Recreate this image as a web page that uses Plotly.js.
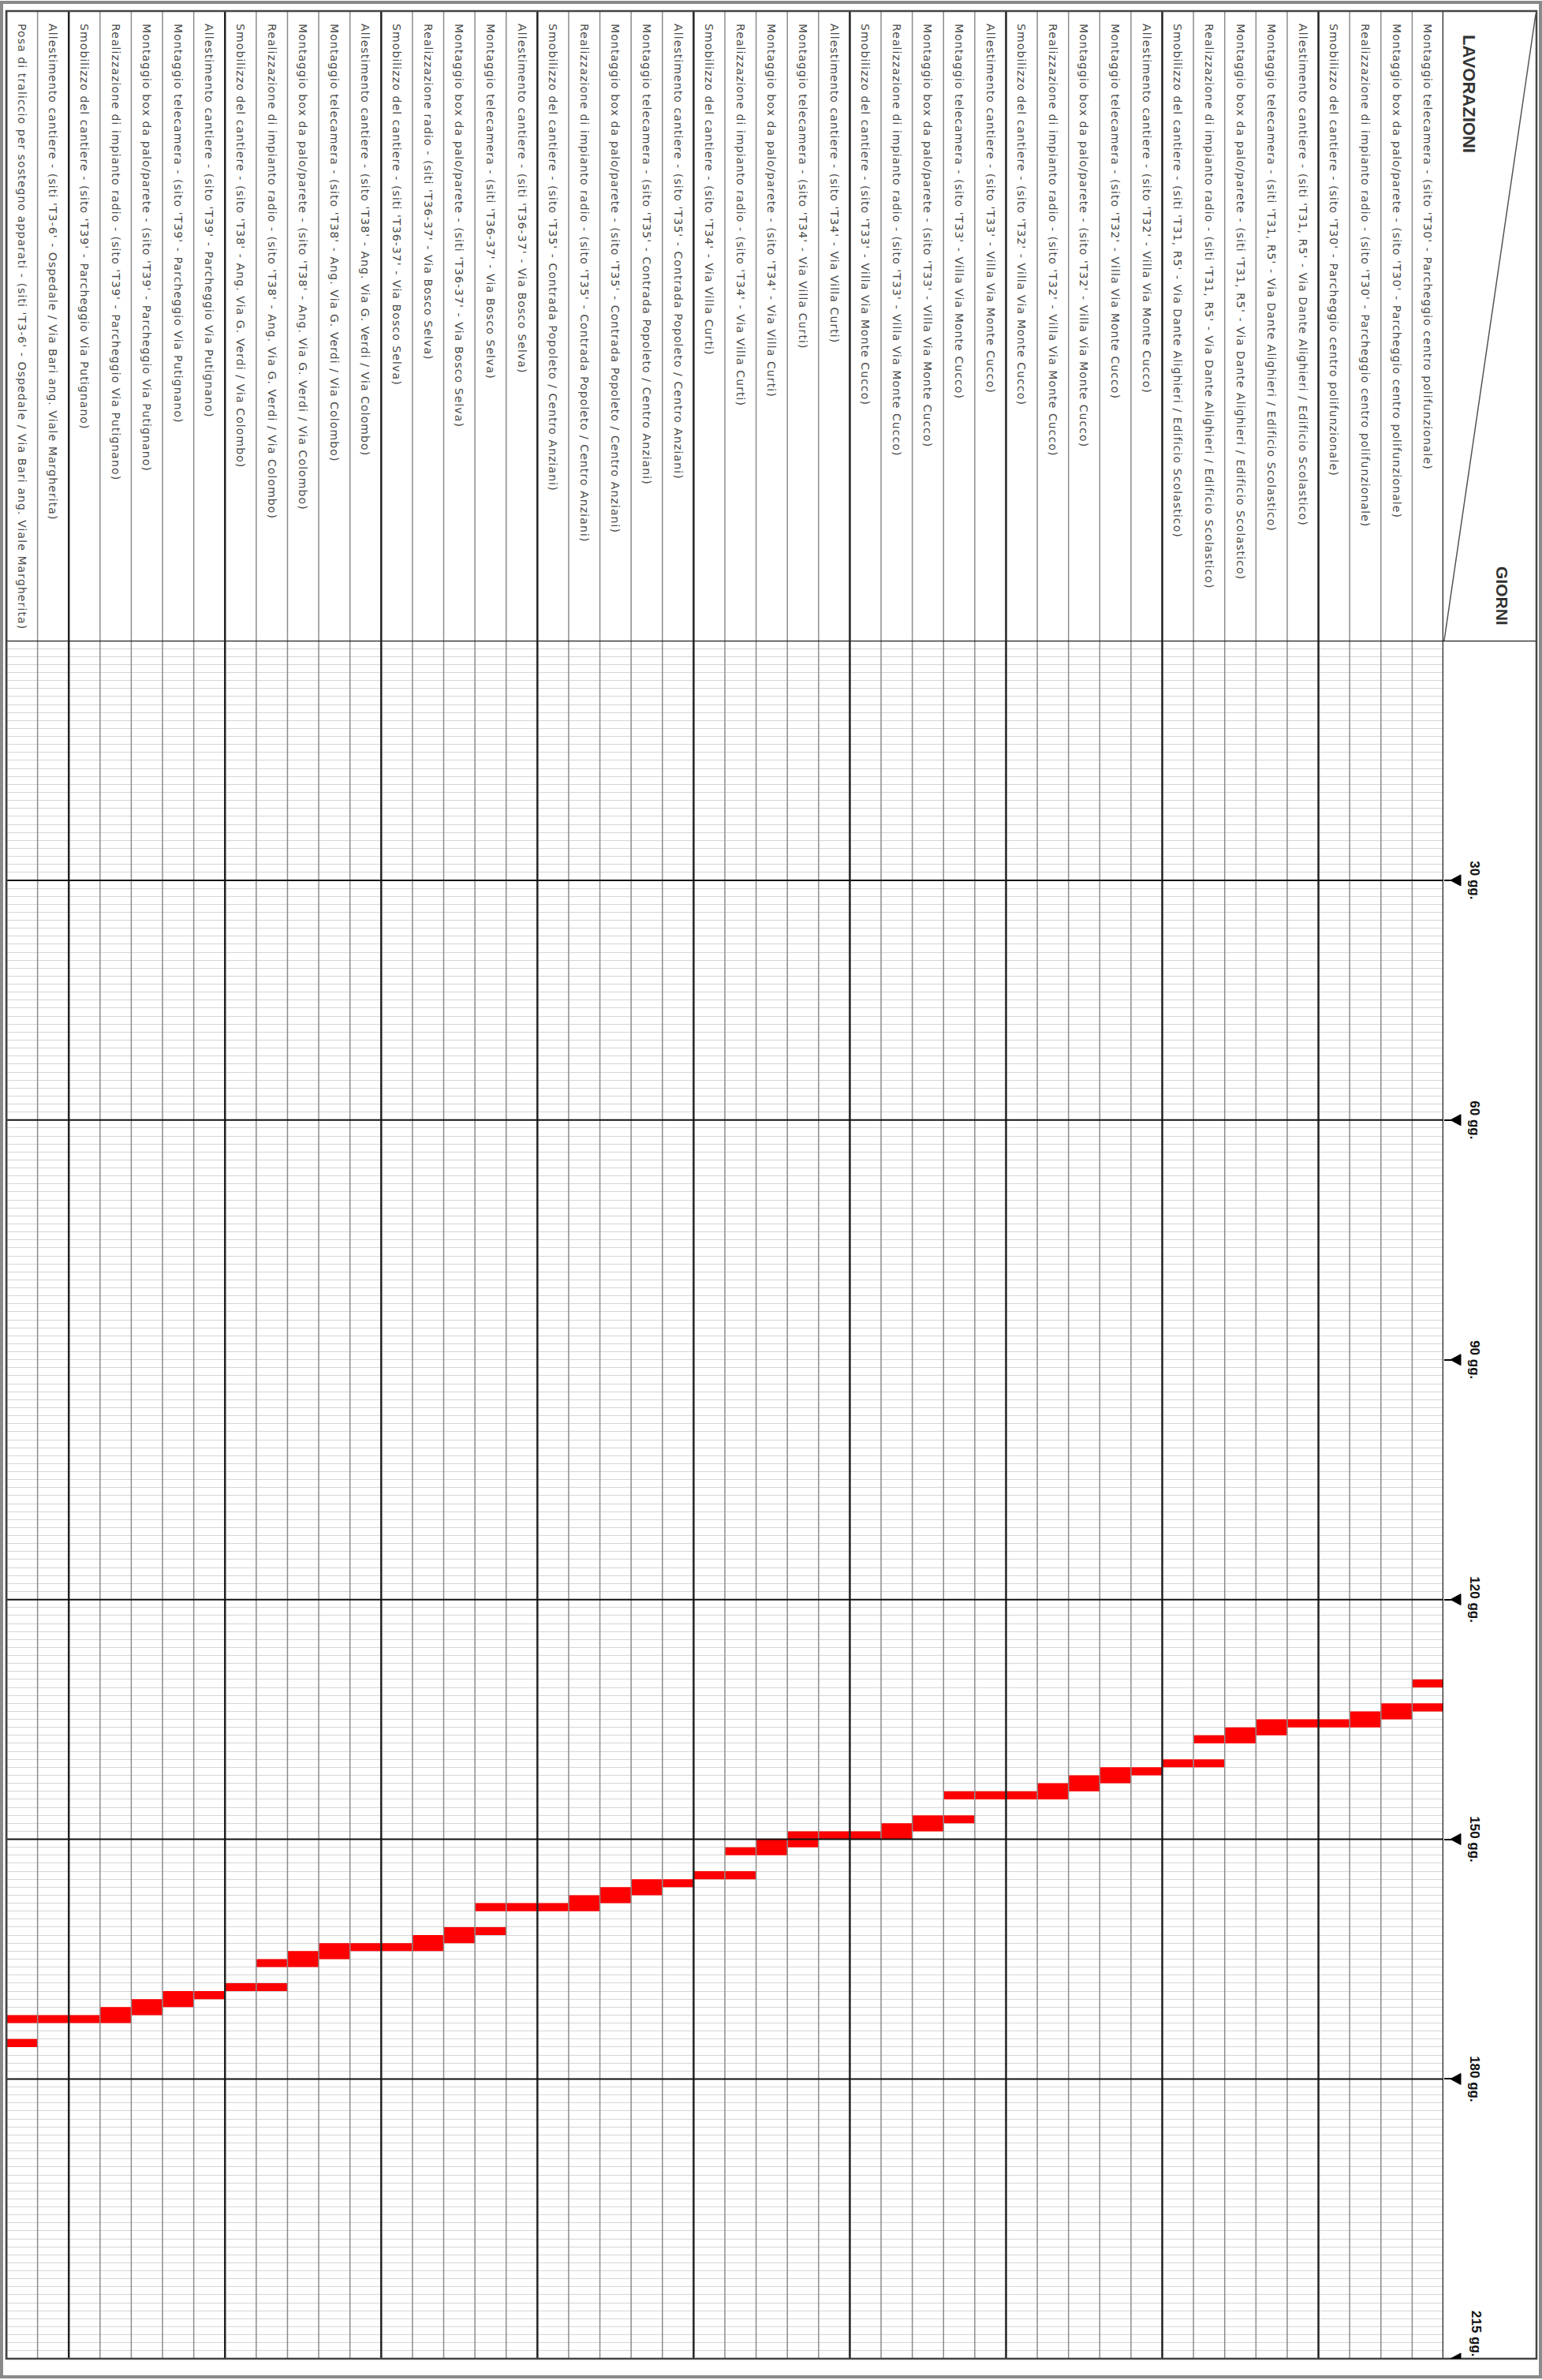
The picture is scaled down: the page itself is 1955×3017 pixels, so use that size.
<!DOCTYPE html>
<html>
<head>
<meta charset="utf-8">
<script src="https://cdn.plot.ly/plotly-3.0.1.min.js"></script>
<style>
html,body{margin:0;padding:0;background:#fff;width:1955px;height:3017px;overflow:hidden;}
#wrap{position:absolute;left:0;top:0;width:1955px;height:3017px;overflow:hidden;}
#chart{position:absolute;left:0;top:0;width:3017px;height:1955px;transform-origin:0 0;transform:translate(1955px,0) rotate(90deg);}
</style>
</head>
<body>
<div id="wrap"><div id="chart"></div></div>
<script>
// ---------------- DATA ----------------
const taskLabels = [
"Montaggio telecamera - (sito 'T30' - Parcheggio centro polifunzionale)",
"Montaggio box da palo/parete - (sito 'T30' - Parcheggio centro polifunzionale)",
"Realizzazione di impianto radio - (sito 'T30' - Parcheggio centro polifunzionale)",
"Smobilizzo del cantiere - (sito 'T30' - Parcheggio centro polifunzionale)",
"Allestimento cantiere - (siti 'T31, R5' - Via Dante Alighieri / Edificio Scolastico)",
"Montaggio telecamera - (siti 'T31, R5' - Via Dante Alighieri / Edificio Scolastico)",
"Montaggio box da palo/parete - (siti 'T31, R5' - Via Dante Alighieri / Edificio Scolastico)",
"Realizzazione di impianto radio - (siti 'T31, R5' - Via Dante Alighieri / Edificio Scolastico)",
"Smobilizzo del cantiere - (siti 'T31, R5' - Via Dante Alighieri / Edificio Scolastico)",
"Allestimento cantiere - (sito 'T32' - Villa Via Monte Cucco)",
"Montaggio telecamera - (sito 'T32' - Villa Via Monte Cucco)",
"Montaggio box da palo/parete - (sito 'T32' - Villa Via Monte Cucco)",
"Realizzazione di impianto radio - (sito 'T32' - Villa Via Monte Cucco)",
"Smobilizzo del cantiere - (sito 'T32' - Villa Via Monte Cucco)",
"Allestimento cantiere - (sito 'T33' - Villa Via Monte Cucco)",
"Montaggio telecamera - (sito 'T33' - Villa Via Monte Cucco)",
"Montaggio box da palo/parete - (sito 'T33' - Villa Via Monte Cucco)",
"Realizzazione di impianto radio - (sito 'T33' - Villa Via Monte Cucco)",
"Smobilizzo del cantiere - (sito 'T33' - Villa Via Monte Cucco)",
"Allestimento cantiere - (sito 'T34' - Via Villa Curti)",
"Montaggio telecamera - (sito 'T34' - Via Villa Curti)",
"Montaggio box da palo/parete - (sito 'T34' - Via Villa Curti)",
"Realizzazione di impianto radio - (sito 'T34' - Via Villa Curti)",
"Smobilizzo del cantiere - (sito 'T34' - Via Villa Curti)",
"Allestimento cantiere - (sito 'T35' - Contrada Popoleto / Centro Anziani)",
"Montaggio telecamera - (sito 'T35' - Contrada Popoleto / Centro Anziani)",
"Montaggio box da palo/parete - (sito 'T35' - Contrada Popoleto / Centro Anziani)",
"Realizzazione di impianto radio - (sito 'T35' - Contrada Popoleto / Centro Anziani)",
"Smobilizzo del cantiere - (sito 'T35' - Contrada Popoleto / Centro Anziani)",
"Allestimento cantiere - (siti 'T36-37' - Via Bosco Selva)",
"Montaggio telecamera - (siti 'T36-37' - Via Bosco Selva)",
"Montaggio box da palo/parete - (siti 'T36-37' - Via Bosco Selva)",
"Realizzazione radio - (siti 'T36-37' - Via Bosco Selva)",
"Smobilizzo del cantiere - (siti 'T36-37' - Via Bosco Selva)",
"Allestimento cantiere - (sito 'T38' - Ang. Via G. Verdi / Via Colombo)",
"Montaggio telecamera - (sito 'T38' - Ang. Via G. Verdi / Via Colombo)",
"Montaggio box da palo/parete - (sito 'T38' - Ang. Via G. Verdi / Via Colombo)",
"Realizzazione di impianto radio - (sito 'T38' - Ang. Via G. Verdi / Via Colombo)",
"Smobilizzo del cantiere - (sito 'T38' - Ang. Via G. Verdi / Via Colombo)",
"Allestimento cantiere - (sito 'T39' - Parcheggio Via Putignano)",
"Montaggio telecamera - (sito 'T39' - Parcheggio Via Putignano)",
"Montaggio box da palo/parete - (sito 'T39' - Parcheggio Via Putignano)",
"Realizzazione di impianto radio - (sito 'T39' - Parcheggio Via Putignano)",
"Smobilizzo del cantiere - (sito 'T39' - Parcheggio Via Putignano)",
"Allestimento cantiere - (siti 'T3-6' - Ospedale / Via Bari ang. Viale Margherita)",
"Posa di traliccio per sostegno apparati - (siti 'T3-6' - Ospedale / Via Bari ang. Viale Margherita)"
];

// bar segments: row number (1 = first task), start day, end day
const barRow   = [1,1,2,3,4, 5,6,7,8,8,9, 10,11,12,13,14, 15,16,16,17,18,19, 20,21,22,23,23,24, 25,26,27,28,29, 30,31,31,32,33,34, 35,36,37,38,38,39, 40,41,42,43,44, 45,46,46];
const barStart = [130,133,133,134,135, 135,135,136,137,140,140, 141,141,142,143,144, 144,144,147,147,148,149, 149,149,150,151,154,154, 155,155,156,157,158, 158,158,161,161,162,163, 163,163,164,165,168,168, 169,169,170,171,172, 172,172,175];
const barEnd   = [131,134,135,136,136, 136,137,138,138,141,141, 142,143,144,145,145, 145,145,148,149,150,150, 150,151,152,152,155,155, 156,157,158,159,159, 159,159,162,163,164,164, 164,165,166,166,169,169, 170,171,172,173,173, 173,173,176];

const tickDays = [30, 60, 90, 120, 150, 180, 215];
const tickText = ["30 gg.", "60 gg.", "90 gg.", "120 gg.", "150 gg.", "180 gg.", "215 gg."];
const fullLineDays = [30, 60, 120, 150, 180];
const groupEndRows = [4, 9, 14, 19, 24, 29, 34, 39, 44];
const headerLeft = "LAVORAZIONI";
const headerRight = "GIORNI";

// ---------------- LAYOUT GEOMETRY ----------------
const W = 3017, H = 1955;
const mL = 812, mR = 27, mT = 125, mB = 8;
const pw = W - mL - mR, ph = H - mT - mB;
const PX = u => (u - mL) / pw;          // page x (unrotated) -> paper
const PY = v => 1 - (v - mT) / ph;      // page y (unrotated) -> paper
const nRows = taskLabels.length;
const lastDay = tickDays[tickDays.length - 1];

const shapes = [];
// outer grey frame
shapes.push({type:'rect', xref:'paper', yref:'paper', x0:PX(3), x1:PX(3013), y0:PY(1953), y1:PY(2),
  line:{color:'#8a8a8a', width:4}, fillcolor:'rgba(0,0,0,0)', layer:'below'});
// row separators
for (let k = 0; k <= nRows; k++) {
  const thick = (k === 0 || k === nRows || groupEndRows.includes(k));
  shapes.push({type:'line', xref:'paper', yref:'y', x0:PX(14), x1:1, y0:k+0.5, y1:k+0.5,
    line:{color: thick ? '#222' : '#8c8c8c', width: thick ? 2.5 : 1.5}});
}
// full black day lines
fullLineDays.forEach(d => shapes.push({type:'line', xref:'x', yref:'paper', x0:d, x1:d, y0:0, y1:1,
  line:{color:'#111', width:2}}));
// chart start line (also header cell edge)
shapes.push({type:'line', xref:'x', yref:'paper', x0:0, x1:0, y0:0, y1:PY(7), line:{color:'#222', width:2.5}});
// table border
shapes.push({type:'rect', xref:'paper', yref:'paper', x0:PX(14), x1:1, y0:0, y1:PY(7),
  line:{color:'#444', width:2.5}, fillcolor:'rgba(0,0,0,0)'});
// header diagonal
shapes.push({type:'line', xref:'paper', yref:'paper', x0:PX(18), y0:PY(8), x1:PX(812), y1:PY(124),
  line:{color:'#555', width:1.5}});
// tick triangles
tickDays.forEach(d => shapes.push({type:'path', xref:'x', yref:'paper', xsizemode:'pixel', ysizemode:'pixel',
  xanchor:d, yanchor:1, path:'M -7 22 L 7 22 L 0 9 Z', fillcolor:'#000', line:{color:'#000', width:1}}));

const tickFont = {family:'Liberation Sans, Arial, sans-serif', size:17, color:'#111', weight:'bold'};

const annotations = taskLabels.map((t, i) => ({
  xref:'paper', yref:'y', x:PX(28), y:i+1, xanchor:'left', yanchor:'middle',
  text:'<span style="letter-spacing:1.1px">' + t + '</span>', showarrow:false,
  font:{family:'DejaVu Sans, Liberation Sans, sans-serif', size:14, color:'#4a4a4a'}
}));
annotations.push({xref:'paper', yref:'paper', x:PX(42), y:PY(92), xanchor:'left', yanchor:'middle',
  text:headerLeft, showarrow:false, font:{family:'Liberation Sans, Arial, sans-serif', size:22, color:'#333', weight:'bold'}});
annotations.push({xref:'paper', yref:'paper', x:PX(716), y:PY(50), xanchor:'left', yanchor:'middle',
  text:headerRight, showarrow:false, font:{family:'Liberation Sans, Arial, sans-serif', size:21, color:'#333', weight:'bold'}});
// last tick label sits before its marker
annotations.push({xref:'x', yref:'paper', x:lastDay, y:PY(84), xanchor:'right', yanchor:'middle',
  text:tickText[tickText.length - 1], showarrow:false, font:tickFont});

const trace = {
  type:'bar', orientation:'h',
  y: barRow,
  base: barStart,
  x: barEnd.map((e, i) => e - barStart[i]),
  width: 1,
  marker:{color:'#ff0000', line:{width:0}},
  hoverinfo:'skip'
};

const layout = {
  width:W, height:H,
  margin:{l:mL, r:mR, t:mT, b:mB, pad:0},
  paper_bgcolor:'#fff', plot_bgcolor:'#fff',
  showlegend:false, barmode:'overlay',
  xaxis:{
    range:[0, lastDay], side:'top', fixedrange:true,
    tickmode:'array', tickvals:tickDays.slice(0, -1), ticktext:tickText.slice(0, -1),
    ticks:'outside', ticklen:12, tickwidth:2, tickcolor:'#000',
    ticklabelstandoff:14,
    tickfont:tickFont,
    showgrid:false, zeroline:false, showline:false, automargin:false,
    minor:{tickmode:'linear', tick0:0, dtick:1, showgrid:true, gridcolor:'#d6d6d6', gridwidth:1, ticks:''}
  },
  yaxis:{
    range:[nRows + 0.5, 0.5], showticklabels:false, showgrid:false, zeroline:false,
    ticks:'', fixedrange:true, automargin:false
  },
  shapes: shapes,
  annotations: annotations
};

Plotly.newPlot('chart', [trace], layout, {staticPlot:true, displayModeBar:false});
</script>
</body>
</html>
